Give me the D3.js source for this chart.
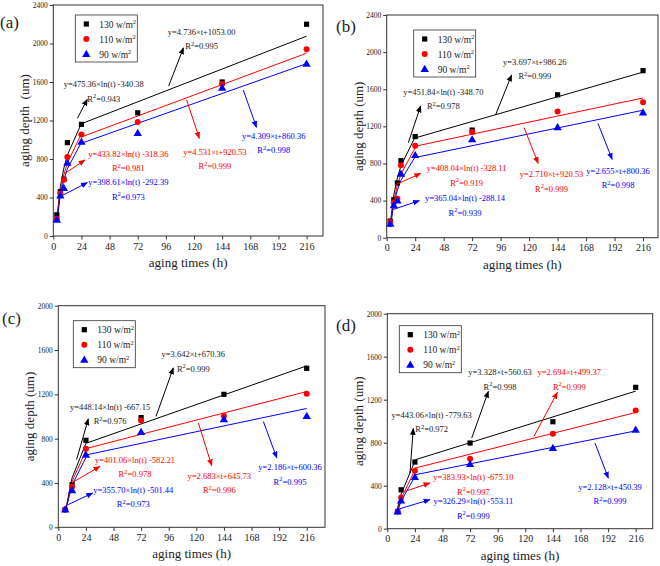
<!DOCTYPE html>
<html>
<head>
<meta charset="utf-8">
<script src="https://cdn.jsdelivr.net/npm/d3@7"></script>
<style>
  body { margin: 0; background: #fff; }
  svg { display: block; }
  svg text { font-family: "Liberation Serif", "Times New Roman", serif; }
</style>
</head>
<body>
<div id="vis"></div>
<script>
// ---- data ----
const panelLabels = ["(a)", "(b)", "(c)", "(d)"];
const seriesNames = ["130 w/m", "110 w/m", "90 w/m"];
const xTicks = [0, 24, 48, 72, 96, 120, 144, 168, 192, 216];
const yTicksAB = [0, 400, 800, 1200, 1600, 2000, 2400];
const yTicksCD = [0, 400, 800, 1200, 1600, 2000];

const timesA = [3, 6, 9, 12, 24, 72, 144, 216];
const depthA130 = [220, 460, 590, 970, 1160, 1280, 1600, 2200];
const depthA110 = [180, 440, 585, 820, 1055, 1185, 1580, 1940];
const depthA90 = [170, 420, 500, 760, 980, 1070, 1540, 1790];

const timesB = [3, 6, 9, 12, 24, 72, 144, 216];
const depthB130 = [180, 410, 590, 830, 1090, 1160, 1540, 1800];
const depthB110 = [170, 380, 420, 780, 990, 1140, 1360, 1460];
const depthB90 = [150, 350, 400, 690, 890, 1060, 1190, 1350];

const timesC = [6, 12, 24, 72, 144, 216];
const depthC130 = [160, 385, 785, 990, 1200, 1435];
const depthC110 = [160, 365, 710, 965, 1005, 1205];
const depthC90 = [160, 335, 655, 860, 975, 1005];

const timesD = [9, 12, 24, 72, 144, 216];
const depthD130 = [160, 362, 620, 797, 995, 1315];
const depthD110 = [160, 290, 540, 650, 884, 1100];
const depthD90 = [160, 262, 481, 601, 750, 921];

// fit equations printed on the figure (130, 110, 90 w/m2)
const logSlopeA = [475.36, 433.82, 398.61], logIntA = [-340.38, -318.36, -292.39], logR2A = ["0.943", "0.981", "0.973"];
const linSlopeA = [4.736, 4.531, 4.309], linIntA = [1053.00, 920.53, 860.36], linR2A = ["0.995", "0.999", "0.998"];
const logSlopeB = [451.84, 408.04, 365.04], logIntB = [-348.70, -328.11, -288.14], logR2B = ["0.978", "0.919", "0.939"];
const linSlopeB = [3.697, 2.710, 2.655], linIntB = [986.26, 920.53, 800.36], linR2B = ["0.999", "0.999", "0.998"];
const logSlopeC = [448.14, 401.06, 355.70], logIntC = [-667.15, -582.21, -501.44], logR2C = ["0.976", "0.978", "0.973"];
const linSlopeC = [3.642, 2.683, 2.186], linIntC = [670.36, 645.73, 600.36], linR2C = ["0.999", "0.996", "0.995"];
const logSlopeD = [443.06, 383.93, 326.29], logIntD = [-779.63, -675.10, -553.11], logR2D = ["0.972", "0.997", "0.999"];
const linSlopeD = [3.328, 2.694, 2.128], linIntD = [560.63, 499.37, 450.39], linR2D = ["0.998", "0.999", "0.999"];

// annotation placement in data units: label centre [t, depth], arrow [t1, d1, t2, d2]
// order: log 130, log 110, log 90, lin 130, lin 110, lin 90
const notesA = [
  [[43, 1576], [20.5, 1222, 29, 1420]], [[64, 852], [10, 651, 27, 790]], [[64, 561], [5.7, 409, 29, 554]],
  [[126.5, 2123], [98.4, 1558, 111, 1955]], [[137.8, 876], [113.7, 1413, 124.5, 1015]], [[188, 1039], [162, 1517, 173.3, 1129]]
];
const notesB = [
  [[47.7, 1574], [18.2, 1024, 28.6, 1419]], [[67.3, 747], [7, 568, 28.6, 693]], [[66, 424], [5.6, 305, 27.5, 399]],
  [[124.8, 1897], [91.7, 1322, 105.2, 1753]], [[138.9, 683], [115.8, 1186, 127.6, 801]], [[195, 722], [178, 1232, 190, 844]]
];
const notesC = [
  [[45, 1086], [15.9, 611, 26.1, 978]], [[66.7, 611], [11.6, 400, 36.2, 550]], [[65.2, 340], [8.7, 205, 29.9, 310]],
  [[117.4, 1564], [85, 1002, 100, 1438]], [[140, 466], [121.8, 941, 133.4, 556]], [[201.5, 541], [178.3, 956, 190, 626]]
];
const notesD = [
  [[38.6, 1061], [19.7, 518, 22.6, 933]], [[74.8, 478], [15.4, 347, 37.1, 425]], [[74.8, 254], [8.1, 177, 37.1, 270]],
  [[98, 1454], [73.4, 843, 87.9, 1278]], [[158.3, 1454], [127.6, 859, 147.9, 1268]], [[193.7, 388], [180.6, 797, 192.2, 471]]
];

// ---- layout ----
const serif = '"Liberation Serif", "Times New Roman", serif';
const colors = ["#000000", "#ff0000", "#0000ff"];
const textColors = ["#222222", "#ff0000", "#0000ff"];
const boxes = [
  { left: 53.3, right: 323, top: 5, bottom: 236, xmax: 230, legend: [22, 10], label: [0, 28] },
  { left: 386.7, right: 658, top: 15, bottom: 237.7, xmax: 228.6, legend: [27, 15], label: [336, 32] },
  { left: 58.3, right: 325, top: 305.7, bottom: 527.3, xmax: 231.9, legend: [15, 15], label: [2, 324] },
  { left: 387.3, right: 652.7, top: 313.7, bottom: 528.7, xmax: 230.8, legend: [12, 12], label: [336, 331] }
];

const panels = [
  { times: timesA, depths: [depthA130, depthA110, depthA90], yTicks: yTicksAB, logS: logSlopeA, logI: logIntA, logR: logR2A, linS: linSlopeA, linI: linIntA, linR: linR2A, notes: notesA },
  { times: timesB, depths: [depthB130, depthB110, depthB90], yTicks: yTicksAB, logS: logSlopeB, logI: logIntB, logR: logR2B, linS: linSlopeB, linI: linIntB, linR: linR2B, notes: notesB },
  { times: timesC, depths: [depthC130, depthC110, depthC90], yTicks: yTicksCD, logS: logSlopeC, logI: logIntC, logR: logR2C, linS: linSlopeC, linI: linIntC, linR: linR2C, notes: notesC },
  { times: timesD, depths: [depthD130, depthD110, depthD90], yTicks: yTicksCD, logS: logSlopeD, logI: logIntD, logR: logR2D, linS: linSlopeD, linI: linIntD, linR: linR2D, notes: notesD }
];

const svg = d3.select("#vis").append("svg").attr("width", 660).attr("height", 566);

// arrow heads, one per colour
const defs = svg.append("defs");
colors.forEach((c, i) => {
  defs.append("marker")
    .attr("id", "arr" + i)
    .attr("viewBox", "0 0 10 10")
    .attr("refX", 9).attr("refY", 5)
    .attr("markerWidth", 7).attr("markerHeight", 7)
    .attr("markerUnits", "userSpaceOnUse")
    .attr("orient", "auto")
    .append("path").attr("d", "M0,1 L10,5 L0,9 Z").attr("fill", c);
});

function drawMarker(g, k, px, py) {
  if (k === 0) {
    g.append("rect").attr("x", px - 2.6).attr("y", py - 2.6).attr("width", 5.2).attr("height", 5.2).attr("fill", colors[0]);
  } else if (k === 1) {
    g.append("circle").attr("cx", px).attr("cy", py).attr("r", 3).attr("fill", colors[1]);
  } else {
    g.append("path").attr("d", d3.symbol(d3.symbolTriangle, 30)()).attr("transform", `translate(${px},${py + 0.6})`).attr("fill", colors[2]);
  }
}

panels.forEach((p, pi) => {
  const b = boxes[pi];
  const g = svg.append("g").attr("font-family", serif);
  const x = d3.scaleLinear().domain([0, b.xmax]).range([b.left, b.right]);
  const yMax = p.yTicks[p.yTicks.length - 1];
  const y = d3.scaleLinear().domain([0, yMax]).range([b.bottom, b.top]);

  // frame
  g.append("rect")
    .attr("x", b.left).attr("y", b.top)
    .attr("width", b.right - b.left).attr("height", b.bottom - b.top)
    .attr("fill", "none").attr("stroke", "#333").attr("stroke-width", 1);

  // axes
  const xAxis = g.append("g").attr("transform", `translate(0,${b.bottom})`)
    .call(d3.axisBottom(x).tickValues(xTicks).tickFormat(d3.format("d")).tickSize(3.5).tickPadding(3));
  xAxis.attr("font-family", serif).attr("font-size", 10);
  xAxis.select(".domain").remove();
  xAxis.selectAll("text").attr("fill", "#222");
  xAxis.selectAll("line").attr("stroke", "#333");

  const yAxis = g.append("g").attr("transform", `translate(${b.left},0)`)
    .call(d3.axisLeft(y).tickValues(p.yTicks).tickFormat(d3.format("d")).tickSize(3.5).tickPadding(2));
  yAxis.attr("font-family", serif).attr("font-size", 7.5);
  yAxis.select(".domain").remove();
  yAxis.selectAll("text").attr("fill", "#222");
  yAxis.selectAll("line").attr("stroke", "#333");

  // axis titles
  g.append("text")
    .attr("x", (b.left + b.right) / 2).attr("y", b.bottom + 31)
    .attr("text-anchor", "middle").attr("font-size", 13).attr("fill", "#222")
    .text("aging times (h)");
  g.append("text")
    .attr("transform", `translate(${b.left - 24},${(b.top + b.bottom) / 2}) rotate(-90)`)
    .attr("text-anchor", "middle").attr("font-size", 13).attr("fill", "#222")
    .text(pi === 0 ? "aging depth\u00a0 (um)" : "aging depth (um)");

  // panel label
  g.append("text").attr("x", b.label[0]).attr("y", b.label[1])
    .attr("font-size", 17).attr("fill", "#222").text(panelLabels[pi]);

  // fit lines: log fit over the early times, linear fit from 24 h on
  const logTimes = p.times.filter(t => t <= 24);
  const linTimes = [24, 216];
  const line = d3.line().x(v => x(v[0])).y(v => y(v[1]));
  p.depths.forEach((d, k) => {
    const logLine = logTimes.map(t => [t, p.logS[k] * Math.log(t) + p.logI[k]]);
    const linLine = linTimes.map(t => [t, p.linS[k] * t + p.linI[k]]);
    g.append("path").attr("d", line(logLine)).attr("fill", "none").attr("stroke", colors[k]).attr("stroke-width", 1);
    g.append("path").attr("d", line(linLine)).attr("fill", "none").attr("stroke", colors[k]).attr("stroke-width", 1);
  });

  // data markers
  p.depths.forEach((d, k) => {
    d.forEach((v, i) => drawMarker(g, k, x(p.times[i]), y(v)));
  });

  // annotations
  p.notes.forEach((n, j) => {
    const k = j % 3;
    const isLog = j < 3;
    const eq = isLog
      ? `y=${p.logS[k].toFixed(2)}\u00d7ln(t) ${p.logI[k].toFixed(2)}`
      : `y=${p.linS[k].toFixed(3)}\u00d7t+${p.linI[k].toFixed(2)}`;
    const r2 = isLog ? p.logR[k] : p.linR[k];
    const cx = x(n[0][0]), cy = y(n[0][1]);
    g.append("line")
      .attr("x1", x(n[1][0])).attr("y1", y(n[1][1]))
      .attr("x2", x(n[1][2])).attr("y2", y(n[1][3]))
      .attr("stroke", colors[k]).attr("stroke-width", 1)
      .attr("marker-end", `url(#arr${k})`);
    g.append("text").attr("x", cx).attr("y", cy + 3)
      .attr("text-anchor", "middle").attr("font-size", 8.5).attr("fill", textColors[k])
      .text(eq);
    const t2 = g.append("text").attr("x", cx).attr("y", cy + 17.5)
      .attr("text-anchor", "middle").attr("font-size", 8.5).attr("fill", textColors[k]);
    t2.append("tspan").text("R");
    t2.append("tspan").attr("dy", -3.5).attr("font-size", 6.5).text("2");
    t2.append("tspan").attr("dy", 3.5).text("=" + r2);
  });

  // legend
  const lx = b.left + b.legend[0], ly = b.top + b.legend[1];
  const lg = g.append("g");
  lg.append("rect").attr("x", lx).attr("y", ly).attr("width", 62).attr("height", 47)
    .attr("fill", "#fff").attr("stroke", "#333").attr("stroke-width", 0.8);
  seriesNames.forEach((s, k) => {
    const ry = ly + 9 + k * 15;
    drawMarker(lg, k, lx + 11, ry);
    const tx = lg.append("text").attr("x", lx + 24).attr("y", ry + 3.5).attr("font-size", 9.5).attr("fill", "#222");
    tx.append("tspan").text(s);
    tx.append("tspan").attr("dy", -3.5).attr("font-size", 6.5).text("2");
  });
});
</script>
</body>
</html>
